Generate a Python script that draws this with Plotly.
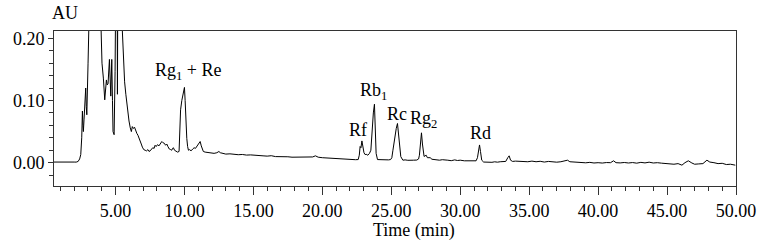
# -*- coding: utf-8 -*-

"""
HPLC chromatogram of ginsenosides (Rg1 + Re, Rf, Rb1, Rc, Rg2, Rd)
redrawn with plotly
"""

import plotly.graph_objects as go

##############################################################################

# CHROMATOGRAM DATA

time_min = [
    0.54, 0.8, 1.0, 1.2, 1.4, 1.6, 1.8, 2.0, 2.15, 2.29,
    2.40, 2.48, 2.55, 2.60, 2.64, 2.67, 2.72, 2.77, 2.84, 2.88,
    2.92, 3.01, 3.08, 3.2, 3.4, 3.55, 3.7, 3.85, 3.93, 4.02,
    4.12, 4.22, 4.34, 4.40, 4.46, 4.56, 4.66, 4.73, 4.78, 4.82,
    4.90, 4.97, 5.04, 5.09, 5.14, 5.18, 5.21, 5.25, 5.29, 5.33,
    5.37, 5.41, 5.45, 5.48, 5.57, 5.66, 5.75, 5.86, 5.98, 6.07,
    6.15, 6.22, 6.30, 6.38, 6.47, 6.55, 6.63, 6.71, 6.78, 6.87,
    6.95, 7.05, 7.15, 7.25, 7.35, 7.43, 7.51, 7.6, 7.7, 7.8,
    7.87, 7.95, 8.05, 8.15, 8.25, 8.36, 8.45, 8.55, 8.63, 8.72,
    8.8, 8.9, 9.0, 9.08, 9.14, 9.20, 9.28, 9.39, 9.5, 9.61,
    9.66, 9.72, 9.81, 9.88, 9.95, 10.0, 10.05, 10.10, 10.17, 10.23,
    10.29, 10.38, 10.48, 10.6, 10.7, 10.8, 10.9, 11.0, 11.08, 11.14,
    11.22, 11.3, 11.37, 11.5, 11.65, 11.8, 12.0, 12.15, 12.35, 12.5,
    12.6, 12.8, 13.0, 13.3, 13.6, 13.9, 14.2, 14.5, 14.8, 15.1,
    15.4, 15.7, 16.0, 16.3, 16.6, 16.9, 17.2, 17.5, 17.8, 18.1,
    18.4, 18.7, 19.0, 19.3, 19.5, 19.7, 20.0, 20.3, 20.6, 20.9,
    21.2, 21.5, 21.8, 22.1, 22.4, 22.6, 22.68, 22.74, 22.8, 22.87,
    22.94, 23.02, 23.1, 23.18, 23.3, 23.42, 23.52, 23.58, 23.63, 23.7,
    23.78, 23.84, 23.90, 24.0, 24.2, 24.4, 24.6, 24.8, 24.95, 25.04,
    25.12, 25.2, 25.28, 25.36, 25.45, 25.52, 25.6, 25.69, 25.84, 26.0,
    26.2, 26.4, 26.6, 26.85, 26.98, 27.04, 27.12, 27.19, 27.26, 27.32,
    27.38, 27.45, 27.53, 27.62, 27.72, 27.82, 27.95, 28.1, 28.3, 28.5,
    28.7, 28.9, 29.1, 29.35, 29.6, 29.8, 30.0, 30.3, 30.6, 30.9,
    31.15, 31.25, 31.32, 31.4, 31.47, 31.56, 31.7, 31.9, 32.1, 32.3,
    32.5, 32.7, 32.9, 33.1, 33.3, 33.45, 33.55, 33.65, 33.8, 34.0,
    34.3, 34.6, 34.9, 35.2, 35.5, 35.8, 36.1, 36.4, 36.7, 37.0,
    37.3, 37.6, 37.78, 37.95, 38.2, 38.5, 38.8, 39.1, 39.4, 39.7,
    40.0, 40.3, 40.6, 40.9, 41.12, 41.3, 41.6, 41.9, 42.2, 42.5,
    42.8, 43.1, 43.4, 43.7, 44.0, 44.3, 44.6, 44.9, 45.2, 45.5,
    45.8, 46.08, 46.3, 46.54, 46.8, 47.0, 47.3, 47.6, 47.89, 48.1,
    48.4, 48.7, 49.0, 49.3, 49.6, 49.95,
]

absorbance_au = [
    0.001, 0.0012, 0.0008, 0.0012, 0.001, 0.0009, 0.0013, 0.001, 0.0009, 0.002,
    0.006, 0.013, 0.04, 0.083, 0.06, 0.05, 0.07, 0.088, 0.12, 0.09,
    0.077, 0.16, 0.22, 0.40, 0.62, 0.70, 0.55, 0.30, 0.21, 0.16,
    0.136, 0.101, 0.133, 0.125, 0.127, 0.166, 0.107, 0.166, 0.10, 0.05,
    0.045, 0.147, 0.35, 0.60, 0.11, 0.25, 0.50, 0.80, 0.30, 0.70,
    0.25, 0.55, 0.35, 0.22, 0.163, 0.13, 0.11, 0.085, 0.067, 0.056,
    0.05, 0.058, 0.055, 0.057, 0.05, 0.047, 0.044, 0.04, 0.036, 0.03,
    0.025, 0.021, 0.020, 0.019, 0.021, 0.018, 0.019, 0.021, 0.024, 0.023,
    0.028, 0.026, 0.029, 0.027, 0.031, 0.034, 0.032, 0.031, 0.028, 0.030,
    0.026, 0.022, 0.021, 0.020, 0.023, 0.024, 0.02, 0.018, 0.017, 0.018,
    0.04, 0.085, 0.10, 0.11, 0.118, 0.121, 0.10, 0.07, 0.039, 0.026,
    0.020, 0.021, 0.019, 0.022, 0.024, 0.023, 0.026, 0.029, 0.032, 0.034,
    0.027, 0.021, 0.018, 0.017, 0.0165, 0.0155, 0.016, 0.015, 0.016, 0.018,
    0.016, 0.0145, 0.0138, 0.0142, 0.013, 0.0128, 0.0132, 0.0122, 0.0125, 0.0117,
    0.012, 0.011, 0.0105, 0.0112, 0.0098, 0.01, 0.0092, 0.0095, 0.0088, 0.009,
    0.0082, 0.0088, 0.0085, 0.0092, 0.011, 0.0088, 0.008, 0.0075, 0.0072, 0.0068,
    0.0062, 0.006, 0.0055, 0.0052, 0.0048, 0.005, 0.012, 0.026, 0.024, 0.035,
    0.025, 0.016, 0.013, 0.0135, 0.012, 0.015, 0.02, 0.04, 0.063, 0.08,
    0.094, 0.05, 0.015, 0.005, 0.0048, 0.0042, 0.005, 0.0045, 0.005, 0.008,
    0.02, 0.035, 0.047, 0.055, 0.063, 0.045, 0.022, 0.0097, 0.004, 0.0045,
    0.0038, 0.0045, 0.004, 0.0042, 0.006, 0.012, 0.035, 0.048, 0.03, 0.015,
    0.010, 0.011, 0.012, 0.008, 0.0075, 0.008, 0.0055, 0.005, 0.0045, 0.004,
    0.0048, 0.0038, 0.004, 0.0032, 0.0045, 0.0035, 0.004, 0.003, 0.0032, 0.0028,
    0.003, 0.008, 0.022, 0.0285, 0.018, 0.004, 0.001, 0.0005, 0.0012, 0.0006,
    0.0014, 0.0008, 0.0015, 0.0012, 0.002, 0.008, 0.011, 0.004, 0.002, 0.0025,
    0.0018, 0.0022, 0.0015, 0.0025, 0.0015, 0.0022, 0.001, 0.002, 0.0012, 0.0008,
    0.0015, 0.0025, 0.004, 0.0015, 0.001, 0.0002, 0.0008, -0.0002, 0.0005, -0.0005,
    0.0, -0.0006, 0.0002, 0.0, 0.003, 0.0, -0.0004, 0.0003, -0.0005, 0.0002,
    -0.0008, 0.0005, -0.0004, 0.0008, -0.0005, 0.0, -0.0008, -0.0012, -0.002, -0.0025,
    -0.0015, -0.004, 0.0, 0.003, -0.0005, -0.0025, -0.002, -0.0015, 0.004, 0.001,
    0.0, -0.0015, -0.001, -0.003, -0.0025, -0.004,
]

# peak labels: text, retention time, height of the label centre
peak_names = ["Rg<sub>1</sub> + Re", "Rf", "Rb<sub>1</sub>", "Rc", "Rg<sub>2</sub>", "Rd"]
peak_label_x = [10.26, 22.6, 23.69, 25.43, 27.31, 31.45]
peak_label_y = [0.146, 0.0525, 0.114, 0.078, 0.069, 0.048]

##############################################################################

# PLOTTING

FONT = "Liberation Serif, Times New Roman, serif"

trace = go.Scatter(
    x=time_min,
    y=absorbance_au,
    mode="lines",
    line=dict(color="black", width=1),
    showlegend=False,
    hoverinfo="x+y",
)

annotations = [
    dict(
        x=px,
        y=py,
        xref="x",
        yref="y",
        text=name,
        showarrow=False,
        font=dict(family=FONT, size=18, color="black"),
    )
    for name, px, py in zip(peak_names, peak_label_x, peak_label_y)
]

# y-axis unit above the axis and x title (slightly right of centre, as in original)
annotations.append(
    dict(
        x=-0.006, y=1.116, xref="paper", yref="paper", text="AU",
        showarrow=False, yanchor="middle",
        font=dict(family=FONT, size=18, color="black"),
    )
)
annotations.append(
    dict(
        x=0.528, y=-0.285, xref="paper", yref="paper", text="Time (min)",
        showarrow=False, yanchor="middle",
        font=dict(family=FONT, size=18, color="black"),
    )
)

layout = go.Layout(
    width=763,
    height=244,
    margin=dict(l=54, r=27, t=31, b=58, autoexpand=False),
    plot_bgcolor="white",
    paper_bgcolor="white",
    font=dict(family=FONT, size=18, color="black"),
    xaxis=dict(
        range=[0.54, 50.0],
        tick0=0,
        dtick=5,
        tickformat=".2f",
        showgrid=False,
        zeroline=False,
        automargin=False,
        ticks="outside",
        ticklen=8,
        tickwidth=1,
        tickcolor="#333",
        showline=True,
        linecolor="#333",
        linewidth=1,
        mirror=True,
        minor=dict(dtick=1, tick0=0, ticks="outside", ticklen=4, tickcolor="#333", showgrid=False),
        tickfont=dict(family=FONT, size=18, color="black"),
    ),
    yaxis=dict(
        range=[-0.0375, 0.2117],
        tick0=0,
        dtick=0.1,
        tickformat=".2f",
        showgrid=False,
        zeroline=False,
        automargin=False,
        ticks="outside",
        ticklen=5,
        tickwidth=1,
        tickcolor="#333",
        showline=True,
        linecolor="#333",
        linewidth=1,
        mirror=True,
        minor=dict(dtick=0.02, tick0=0, ticks="outside", ticklen=4, tickcolor="#333", showgrid=False),
        tickfont=dict(family=FONT, size=18, color="black"),
    ),
    annotations=annotations,
)

fig = go.Figure(data=[trace], layout=layout)

# page body has a default 8px margin -> drop it so the figure sits at (0, 0)
fig.write_html(
    "out.html",
    config={"displayModeBar": False},
    post_script="document.body.style.margin = '0';",
)
